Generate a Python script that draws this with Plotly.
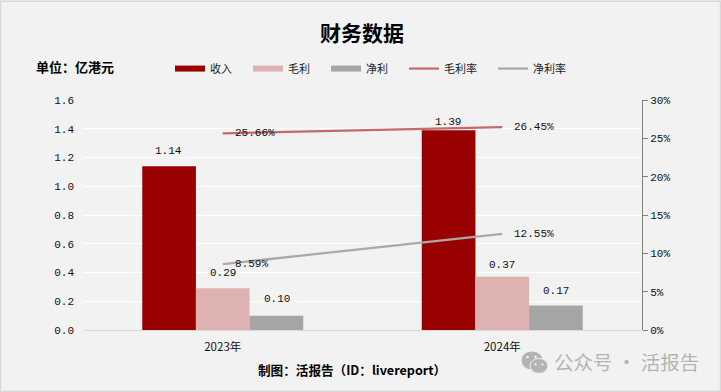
import plotly.graph_objects as go

categories = ["2023年", "2024年"]
revenue = [1.14, 1.39]
gross_profit = [0.29, 0.37]
net_profit = [0.10, 0.17]
gross_margin = [25.66, 26.45]
net_margin = [8.59, 12.55]
revenue_labels = ["1.14", "1.39"]
gross_labels = ["0.29", "0.37"]
net_labels = ["0.10", "0.17"]
gm_labels = ["25.66%", "26.45%"]
nm_labels = ["8.59%", "12.55%"]

W, H = 721, 392
L, R, T, B = 83, 642, 99.5, 330
MONO = "Liberation Mono, Noto Sans CJK SC"
CJK = "Noto Sans CJK SC"
DARK_RED, PINK, GREY, ROSE, LGREY = "#990000", "#dfb2b2", "#a5a5a5", "#c46a6e", "#a9a9a9"
BAR_W = 54
WM = "#b4b4b4"
BG = "#f2f2f2"

def px(x):
    return (x - L) / (R - L)

def py(y):
    return (B - y) / (B - T)

fig = go.Figure()
annotations = []

def value_note(cat, val, text, yref, xshift, yshift, anchor="center"):
    return dict(text=text, xref="x", yref=yref, x=cat, y=val, xshift=xshift, yshift=yshift,
                xanchor=anchor, yanchor="middle", showarrow=False,
                font=dict(family=MONO, size=11, color="#111"))

bar_series = [
    ("收入", revenue, revenue_labels, DARK_RED, -BAR_W, (15, 8)),
    ("毛利", gross_profit, gross_labels, PINK, 0, (15, 12)),
    ("净利", net_profit, net_labels, GREY, BAR_W, (17, 15)),
]
for name, vals, labels, color, shift, lifts in bar_series:
    fig.add_trace(go.Bar(
        x=categories, y=vals, marker=dict(color=color, line_width=0),
        showlegend=False, legendgroup=name, name=name, offsetgroup=name,
    ))
    fig.add_trace(go.Scatter(
        x=[None], y=[None], mode="lines", name=name + "\u3000", legendgroup=name,
        line=dict(color=color, width=6),
    ))
    for cat, val, text, lift in zip(categories, vals, labels, lifts):
        annotations.append(value_note(cat, val, text, "y", shift, lift))

for name, vals, labels, color in [
    ("毛利率", gross_margin, gm_labels, ROSE),
    ("净利率", net_margin, nm_labels, LGREY),
]:
    fig.add_trace(go.Scatter(
        x=categories, y=vals, yaxis="y2", mode="lines", name=name + "\u3000",
        line=dict(color=color, width=2.25),
    ))
    for cat, val, text in zip(categories, vals, labels):
        annotations.append(value_note(cat, val, text, "y2", 10, 0, "left"))

shapes = [dict(type="rect", xref="paper", yref="paper", layer="below",
               x0=px(0.5), x1=px(720.5), y0=py(0.5), y1=py(391.5),
               line=dict(color="#d9d9d9", width=1.5), fillcolor=BG)]
# WeChat mark of the watermark
for cx, cy, rx, ry, col in [(532, 360.5, 11, 9.5, WM), (539, 366, 9, 7.5, WM),
                            (527.5, 357, 1.3, 1.3, BG), (535.5, 357, 1.3, 1.3, BG),
                            (535.5, 364.5, 1.1, 1.1, BG), (542.5, 364.5, 1.1, 1.1, BG)]:
    shapes.append(dict(type="circle", xref="paper", yref="paper", x0=px(cx - rx), x1=px(cx + rx),
                       y0=py(cy - ry), y1=py(cy + ry), fillcolor=col,
                       line=dict(color=BG, width=1 if rx > 5 else 0)))

def note(text, x, y, size, color="#000", bold=False, anchor="center"):
    return dict(text=f"<b>{text}</b>" if bold else text, xref="paper", yref="paper", x=px(x), y=py(y),
                xanchor=anchor, yanchor="middle", showarrow=False,
                font=dict(family=CJK, size=size, color=color))

annotations += [
    note("财务数据", 362, 31.5, 21, bold=True),
    note("单位\uff1a亿港元", 34, 66, 13, bold=True, anchor="left"),
    note("制图\uff1a活报告\uff08ID\uff1alivereport\uff09", 352, 370, 12.6, bold=True),
    note("公众号 · 活报告", 552, 362, 19.5, color=WM, anchor="left"),
]

fig.update_layout(
    width=W, height=H, margin=dict(l=L, r=W - R, t=T, b=H - B, autoexpand=False),
    paper_bgcolor=BG, plot_bgcolor="rgba(0,0,0,0)",
    barmode="group", bargap=0.424, bargroupgap=0, shapes=shapes,
    font=dict(family=CJK, size=12, color="#111"),
    hovermode=False,
    legend=dict(orientation="h", x=px(170), y=py(68), xanchor="left", yanchor="middle",
                itemwidth=30, bgcolor="rgba(0,0,0,0)",
                font=dict(family=CJK, size=11, color="#222"), traceorder="normal"),
    xaxis=dict(type="category", showgrid=False, ticks="", showline=True, linecolor="#d9d9d9", linewidth=1,
               tickfont=dict(family=CJK, size=11.5, color="#111"), ticklabelstandoff=6, zeroline=False),
    yaxis=dict(range=[0, 1.6], dtick=0.2, tickformat=".1f", showgrid=True, gridcolor="#ffffff", gridwidth=1,
               showline=False, zeroline=False, ticks="", ticklabelstandoff=8,
               tickfont=dict(family=MONO, size=11, color="#111")),
    yaxis2=dict(range=[0, 30], dtick=5, ticksuffix="%", overlaying="y", side="right", showgrid=False,
                showline=True, linecolor="#808080", linewidth=1, ticks="outside", ticklen=5, tickcolor="#808080",
                zeroline=False, tickfont=dict(family=MONO, size=11, color="#111")),
    annotations=annotations,
)

fig.write_html("out.html", config=dict(displayModeBar=False), post_script="document.body.style.margin='0';")
